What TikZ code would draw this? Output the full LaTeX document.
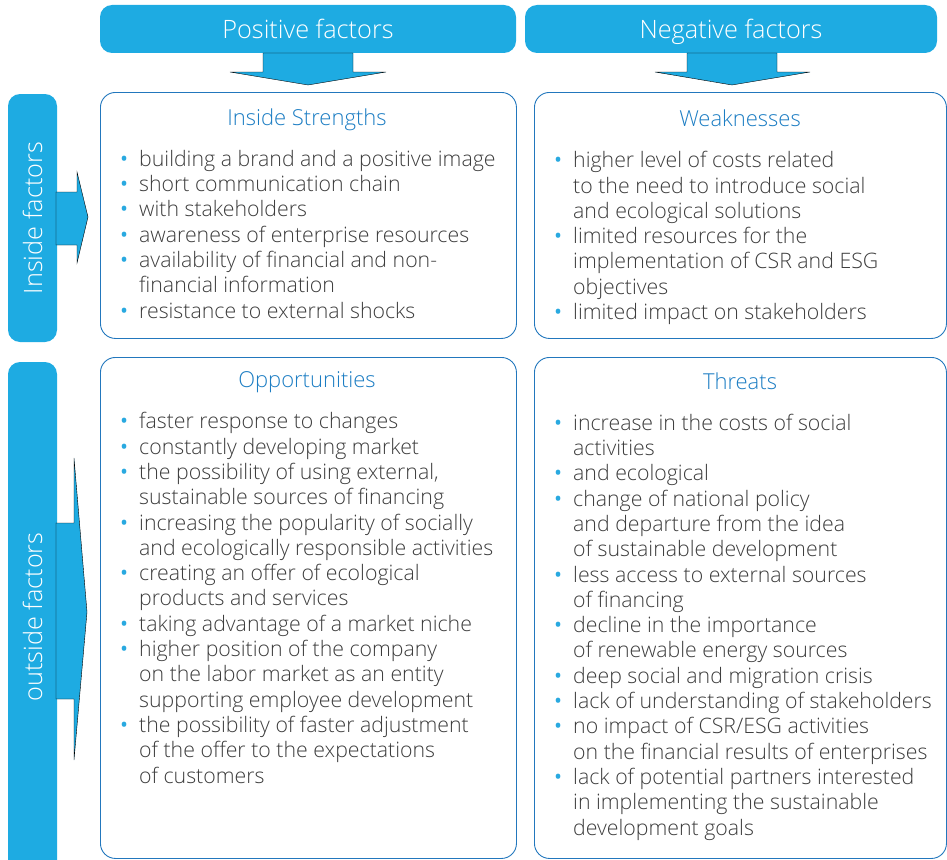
\documentclass[tikz,border=0pt]{standalone}
\usepackage{fontspec}
\setmainfont{Open Sans}[UprightFont={* Light}]
\newfontface\dotfont{Open Sans}
\usetikzlibrary{positioning}

\definecolor{swotfill}{HTML}{1EABE2}
\definecolor{swotline}{HTML}{2277BD}
\definecolor{swottitle}{HTML}{1C7DC3}
\definecolor{swottext}{HTML}{3C3C3C}
\definecolor{swotdot}{HTML}{29A9E0}

\newcommand{\bl}{\makebox[20pt][l]{\hspace*{1pt}\textcolor{swotdot}{\dotfont\textbullet}}}
\newcommand{\ct}{\hspace*{20pt}}

\tikzset{
  header/.style={fill=swotfill, rounded corners=12pt, text=white, text depth=0pt,
    font=\fontsize{25.3}{29}\selectfont, minimum width=416pt, minimum height=48pt, inner sep=0pt},
  sidebar/.style={fill=swotfill, rounded corners=12pt, text=white, rotate=90,
    font=\fontsize{25.3}{29}\selectfont, minimum height=49pt, inner sep=0pt},
  quad/.style={draw=swotline, line width=0.9pt, rounded corners=15pt, anchor=north west,
    minimum width=416pt, inner sep=0pt},
  quadtitle/.style={anchor=base, text=swottitle, font=\fontsize{22}{26}\selectfont},
  % base of an aligned node = baseline of its last line
  items/.style={anchor=base west, align=left, inner sep=0pt, text=swottext,
    font=\fontsize{21.3}{25.3}\selectfont},
  blockarrow/.style={fill=swotfill}
}

\begin{document}
\begin{tikzpicture}[x=1pt, y=-1pt]
    \clip (0,0) rectangle (947,859);
    % column headers
    \node[header] (pos) at (308,29) {Positive factors};
    \node[header, minimum width=412pt] (neg) at (731,29) {Negative factors};
    \draw[blockarrow] (263,53) -- (353,53) -- (353,72) -- (386,72) -- (308,85) -- (230,72) -- (263,72) -- cycle;
    \draw[blockarrow] (687,53) -- (777,53) -- (777,72) -- (810,72) -- (732,85) -- (655,72) -- (687,72) -- cycle;

    % row labels
    \node[sidebar, minimum width=248pt] (ins) at (32.5,218) {Inside factors};
    \node[sidebar, minimum width=510pt] (out) at (32.5,617) {outside factors};
    \draw[blockarrow] (56,192) -- (77,192) -- (77,172) -- (88,217) -- (77,263) -- (77,245) -- (56,245) -- cycle;
    \draw[blockarrow] (56,523) -- (74,523) -- (74,458) -- (87,612) -- (74,760) -- (74,699) -- (56,699) -- cycle;

    % the four fields
    \node[quad, minimum height=246pt] (str) at (100,92) {};
    \node[quad, minimum width=412pt, minimum height=246pt] (weak) at (534,92) {};
    \node[quad, minimum height=501pt] (opp) at (100,357) {};
    \node[quad, minimum width=412pt, minimum height=501pt] (thr) at (534,357) {};

    \node[quadtitle] (strt) at (307,125) {Inside Strengths};
    \node[quadtitle] (weakt) at (740,126) {Weaknesses};
    \node[quadtitle] (oppt) at (307,387) {Opportunities};
    \node[quadtitle] (thrt) at (740,389) {Threats};

    \node[items] (strl) at (119,318) {%
      \bl building a brand and a positive image\\
      \bl short communication chain\\
      \bl with stakeholders\\
      \bl awareness of enterprise resources\\
      \bl availability of financial and non-\\
      \ct financial information\\
      \bl resistance to external shocks};
    \node[items] (weakl) at (553,319.5) {%
      \bl higher level of costs related\\
      \ct to the need to introduce social\\
      \ct and ecological solutions\\
      \bl limited resources for the\\
      \ct implementation of CSR and ESG\\
      \ct objectives\\
      \bl limited impact on stakeholders};
    \node[items] (oppl) at (119,783) {%
      \bl faster response to changes\\
      \bl constantly developing market\\
      \bl the possibility of using external,\\
      \ct sustainable sources of financing\\
      \bl increasing the popularity of socially\\
      \ct and ecologically responsible activities\\
      \bl creating an offer of ecological\\
      \ct products and services\\
      \bl taking advantage of a market niche\\
      \bl higher position of the company\\
      \ct on the labor market as an entity\\
      \ct supporting employee development\\
      \bl the possibility of faster adjustment\\
      \ct of the offer to the expectations\\
      \ct of customers};
    \node[items] (thrl) at (553,835) {%
      \bl increase in the costs of social\\
      \ct activities\\
      \bl and ecological\\
      \bl change of national policy\\
      \ct and departure from the idea\\
      \ct of sustainable development\\
      \bl less access to external sources\\
      \ct of financing\\
      \bl decline in the importance\\
      \ct of renewable energy sources\\
      \bl deep social and migration crisis\\
      \bl lack of understanding of stakeholders\\
      \bl no impact of CSR/ESG activities\\
      \ct on the financial results of enterprises\\
      \bl lack of potential partners interested\\
      \ct in implementing the sustainable\\
      \ct development goals};
\end{tikzpicture}
\end{document}
